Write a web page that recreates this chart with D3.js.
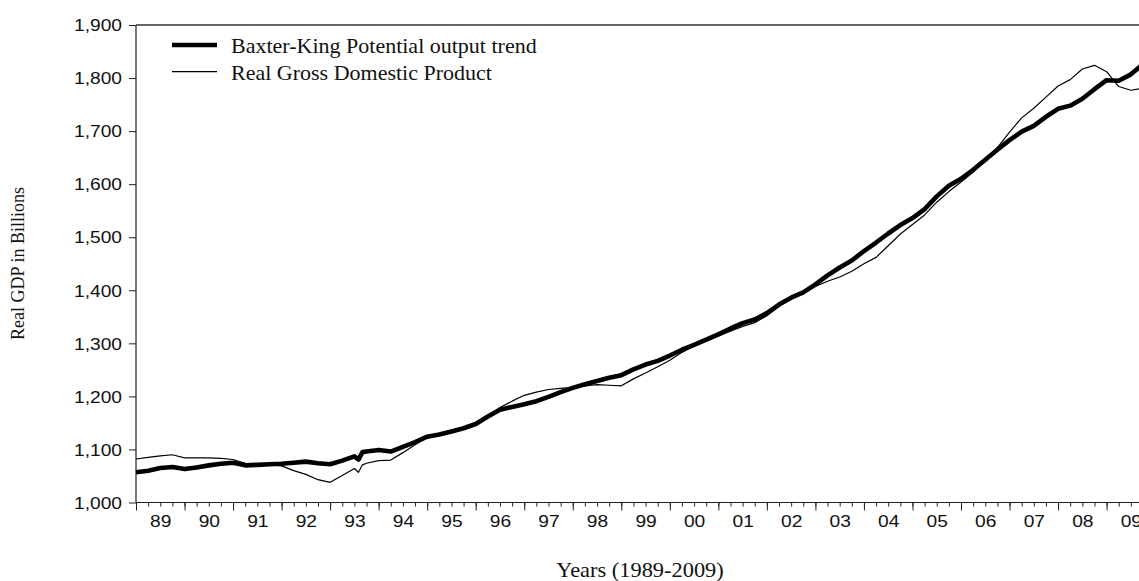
<!DOCTYPE html>
<html>
<head>
<meta charset="utf-8">
<script src="https://cdn.jsdelivr.net/npm/d3@7"></script>
<style>
  body { margin: 0; background: #fff; }
  svg { display: block; }
  .tick text { font-family: "Liberation Sans", Arial, sans-serif; font-size: 16px; fill: #111; }
  .ttl { font-family: "Liberation Serif", "Times New Roman", serif; fill: #111; }
</style>
</head>
<body>
<svg id="chart" width="1139" height="581"></svg>
<script>
// quarterly observations, two extra monthly points around the 1993 dip
var dates = [
  1989.00, 1989.25, 1989.50, 1989.75,
  1990.00, 1990.25, 1990.50, 1990.75,
  1991.00, 1991.25, 1991.50, 1991.75,
  1992.00, 1992.25, 1992.50, 1992.75,
  1993.00, 1993.25, 1993.50, 1993.583, 1993.667, 1993.75,
  1994.00, 1994.25, 1994.50, 1994.75,
  1995.00, 1995.25, 1995.50, 1995.75,
  1996.00, 1996.25, 1996.50, 1996.75,
  1997.00, 1997.25, 1997.50, 1997.75,
  1998.00, 1998.25, 1998.50, 1998.75,
  1999.00, 1999.25, 1999.50, 1999.75,
  2000.00, 2000.25, 2000.50, 2000.75,
  2001.00, 2001.25, 2001.50, 2001.75,
  2002.00, 2002.25, 2002.50, 2002.75,
  2003.00, 2003.25, 2003.50, 2003.75,
  2004.00, 2004.25, 2004.50, 2004.75,
  2005.00, 2005.25, 2005.50, 2005.75,
  2006.00, 2006.25, 2006.50, 2006.75,
  2007.00, 2007.25, 2007.50, 2007.75,
  2008.00, 2008.25, 2008.50, 2008.75,
  2009.00, 2009.25, 2009.50, 2009.75
];

var trend = [
  1057, 1060, 1065, 1067,
  1063, 1066, 1070, 1073,
  1075, 1070, 1071, 1072,
  1073, 1075, 1077, 1074,
  1072, 1079, 1087, 1081, 1095, 1096,
  1099, 1096, 1105, 1114,
  1124, 1128, 1134, 1140,
  1148, 1162, 1175, 1180,
  1185, 1191, 1199, 1208,
  1216, 1223, 1229, 1235,
  1240, 1251, 1260, 1267,
  1277, 1288, 1297, 1307,
  1317, 1328, 1338, 1345,
  1357, 1373, 1386, 1396,
  1411, 1428, 1443, 1456,
  1474, 1490, 1507, 1523,
  1536, 1553, 1577, 1597,
  1610, 1627, 1646, 1665,
  1683, 1699, 1710, 1727,
  1742, 1748, 1761, 1779,
  1796, 1795, 1807, 1826
];

var gdp = [
  1082, 1085, 1088, 1090,
  1084, 1084, 1084, 1083,
  1081, 1074, 1072, 1071,
  1069, 1060, 1053, 1043,
  1038, 1051, 1064, 1057, 1071, 1074,
  1079, 1080, 1094, 1109,
  1122, 1127, 1133, 1139,
  1146, 1163, 1179, 1191,
  1202, 1208, 1213, 1215,
  1217, 1220, 1222, 1221,
  1220, 1233, 1244, 1256,
  1268, 1283, 1295, 1305,
  1314, 1323, 1332, 1339,
  1352, 1370, 1384, 1394,
  1407, 1417, 1425, 1436,
  1450, 1462, 1484, 1506,
  1524, 1542, 1566, 1586,
  1604, 1623, 1644, 1669,
  1698, 1725, 1743, 1764,
  1785, 1797, 1817, 1824,
  1812, 1784, 1777, 1781
];

var yearLabels = ["89","90","91","92","93","94","95","96","97","98","99",
                  "00","01","02","03","04","05","06","07","08","09"];
var yTicks = [1000, 1100, 1200, 1300, 1400, 1500, 1600, 1700, 1800, 1900];
var legendNames = ["Baxter-King Potential output trend", "Real Gross Domestic Product"];

var svg = d3.select("#chart");
var plotLeft = 136, plotTop = 25, plotBottom = 502.5, yearW = 48.53;

var x = d3.scaleLinear().domain([1989, 2010]).range([plotLeft, plotLeft + 21 * yearW]);
var y = d3.scaleLinear().domain([1000, 1900]).range([plotBottom, plotTop]);

// frame
svg.append("line").attr("x1", plotLeft).attr("x2", 1139).attr("y1", plotTop).attr("y2", plotTop)
  .attr("stroke", "#333").attr("stroke-width", 1.4);
svg.append("line").attr("x1", plotLeft).attr("x2", plotLeft).attr("y1", plotTop).attr("y2", plotBottom)
  .attr("stroke", "#222").attr("stroke-width", 1.2);
svg.append("line").attr("x1", plotLeft).attr("x2", 1139).attr("y1", plotBottom).attr("y2", plotBottom)
  .attr("stroke", "#222").attr("stroke-width", 1.2);

// y axis
var yAxis = svg.append("g")
  .attr("transform", "translate(" + plotLeft + ",0)")
  .call(d3.axisLeft(y).tickValues(yTicks).tickSize(7).tickFormat(d3.format(",")));
yAxis.select(".domain").remove();
yAxis.selectAll(".tick line").attr("stroke", "#222");
yAxis.selectAll(".tick text")
  .attr("x", 0).attr("dy", "0.36em")
  .attr("transform", "translate(-14,0) scale(1.2,1)");

// x axis: quarter ticks, year ticks, year labels
var quarterTicks = [];
for (var q = 0; q <= 21 * 4; q++) quarterTicks.push(1989 + q / 4);
var xMinor = svg.append("g")
  .attr("transform", "translate(0," + plotBottom + ")")
  .call(d3.axisBottom(x).tickValues(quarterTicks).tickSize(4).tickFormat(""));
xMinor.select(".domain").remove();
xMinor.selectAll(".tick line").attr("stroke", "#222");

var xMajor = svg.append("g")
  .attr("transform", "translate(0," + plotBottom + ")")
  .call(d3.axisBottom(x).tickValues(d3.range(1989, 2011)).tickSize(8).tickFormat(""));
xMajor.select(".domain").remove();
xMajor.selectAll(".tick line").attr("stroke", "#222");

var xLab = svg.append("g")
  .attr("transform", "translate(0," + plotBottom + ")")
  .call(d3.axisBottom(x)
    .tickValues(yearLabels.map(function(d, i) { return 1989.5 + i; }))
    .tickSize(0)
    .tickFormat(function(d, i) { return yearLabels[i]; }));
xLab.select(".domain").remove();
xLab.selectAll(".tick text")
  .attr("y", 0).attr("dy", 0)
  .attr("transform", "translate(0,24.5) scale(1.2,1)");

// series
var line = d3.line()
  .x(function(d) { return x(d[0]); })
  .y(function(d) { return y(d[1]); });

svg.append("path")
  .datum(dates.map(function(d, i) { return [d, gdp[i]]; }))
  .attr("fill", "none").attr("stroke", "#000").attr("stroke-width", 1.2)
  .attr("stroke-linejoin", "round")
  .attr("d", line);

svg.append("path")
  .datum(dates.map(function(d, i) { return [d, trend[i]]; }))
  .attr("fill", "none").attr("stroke", "#000").attr("stroke-width", 4.6)
  .attr("stroke-linejoin", "round")
  .attr("d", line);

// legend
var legend = svg.append("g");
[4.6, 1.2].forEach(function(w, i) {
  legend.append("line")
    .attr("x1", 172).attr("x2", 217)
    .attr("y1", 45 + i * 26.7).attr("y2", 45 + i * 26.7)
    .attr("stroke", "#000").attr("stroke-width", w);
  legend.append("text")
    .attr("class", "ttl")
    .attr("x", 231).attr("y", 53 + i * 26.7)
    .style("font-size", "22px")
    .text(legendNames[i]);
});

// titles
svg.append("text")
  .attr("class", "ttl")
  .attr("transform", "translate(24,263.5) rotate(-90)")
  .attr("text-anchor", "middle")
  .style("font-size", "18px")
  .text("Real GDP in Billions");

svg.append("text")
  .attr("class", "ttl")
  .attr("transform", "translate(640,577) scale(1.12,1)")
  .attr("text-anchor", "middle")
  .style("font-size", "20px")
  .text("Years (1989-2009)");
</script>
</body>
</html>
